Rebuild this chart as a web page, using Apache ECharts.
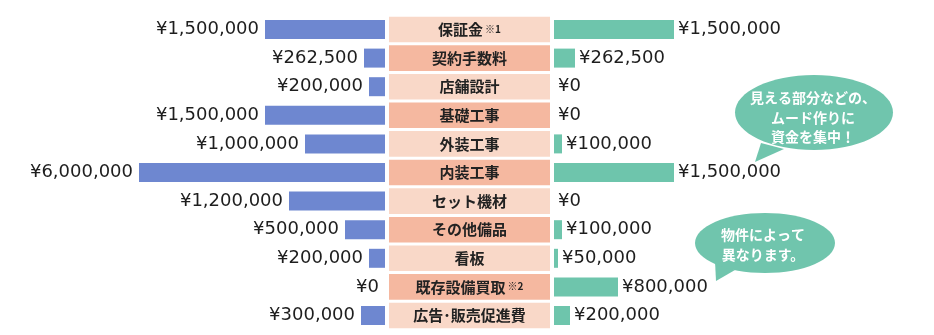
<!DOCTYPE html>
<html>
<head>
<meta charset="utf-8">
<script src="https://cdn.jsdelivr.net/npm/echarts@6/dist/echarts.min.js"></script>
<style>
  html, body { margin: 0; padding: 0; background: #ffffff; }
  #chart { width: 934px; height: 335px; }
</style>
</head>
<body>
<div id="chart"></div>
<script>
// Cost items (top to bottom)
const categories = ['保証金', '契約手数料', '店舗設計', '基礎工事', '外装工事', '内装工事', 'セット機材', 'その他備品', '看板', '既存設備買取', '広告･販売促進費'];
// Footnote marks attached to some items
const noteMarks = ['※1', '', '', '', '', '', '', '', '', '※2', ''];
// Left-hand amounts (yen)
const leftValues = [1500000, 262500, 200000, 1500000, 1000000, 6000000, 1200000, 500000, 200000, 0, 300000];
// Right-hand amounts (yen)
const rightValues = [1500000, 262500, 0, 0, 100000, 1500000, 0, 100000, 50000, 800000, 200000];

const FONT = '"Noto Sans CJK JP", "Noto Sans", sans-serif';
const NUM_FONT = '"DejaVu Sans", "Noto Sans", sans-serif';
const BLUE = '#6e87d0';
const GREEN = '#6ec5ac';
const BOX_LIGHT = '#f9d8c8';
const BOX_DARK = '#f5b8a0';
const BUBBLE = '#70c5ad';

const yen = v => '¥' + Number(v).toLocaleString('en-US');

const gridTop = 15.2;
const gridHeight = 314.6;

function hiddenValueAxis(extra) {
  return Object.assign({
    type: 'value',
    min: 0,
    axisLine: { show: false },
    axisTick: { show: false },
    axisLabel: { show: false },
    splitLine: { show: false }
  }, extra);
}
function hiddenCategoryAxis(gridIndex) {
  return {
    type: 'category',
    gridIndex: gridIndex,
    data: categories,
    inverse: true,
    axisLine: { show: false },
    axisTick: { show: false },
    axisLabel: { show: false },
    splitLine: { show: false }
  };
}

const valueLabel = (position, distance) => ({
  show: true,
  position: position,
  distance: distance,
  formatter: p => yen(p.value),
  fontFamily: NUM_FONT,
  fontSize: 18,
  color: '#1e1e1e'
});

const chart = echarts.init(document.getElementById('chart'), null, { renderer: 'canvas' });

chart.setOption({
  animation: false,
  backgroundColor: '#ffffff',
  textStyle: { fontFamily: FONT },
  grid: [
    { left: 139, width: 246, top: gridTop, height: gridHeight },
    { left: 389, width: 161, top: gridTop, height: gridHeight },
    { left: 554, width: 240, top: gridTop, height: gridHeight }
  ],
  xAxis: [
    hiddenValueAxis({
      gridIndex: 0,
      inverse: true,
      max: 6000000,
      // compress the long stretch so the largest amount fits
      breaks: [{ start: 2000000, end: 5000000, gap: 75000 }],
      breakArea: { show: false, itemStyle: { opacity: 0 } }
    }),
    hiddenValueAxis({ gridIndex: 1, max: 1 }),
    hiddenValueAxis({ gridIndex: 2, max: 3000000 })
  ],
  yAxis: [hiddenCategoryAxis(0), hiddenCategoryAxis(1), hiddenCategoryAxis(2)],
  series: [
    {
      name: 'left',
      type: 'bar',
      xAxisIndex: 0,
      yAxisIndex: 0,
      data: leftValues,
      barWidth: 19,
      itemStyle: { color: BLUE },
      label: valueLabel('left', 6)
    },
    {
      name: 'items',
      type: 'bar',
      xAxisIndex: 1,
      yAxisIndex: 1,
      barWidth: 25.6,
      silent: true,
      data: categories.map((c, i) => ({
        value: 1,
        itemStyle: { color: i % 2 === 0 ? BOX_LIGHT : BOX_DARK }
      })),
      label: {
        show: true,
        position: 'inside',
        formatter: p => {
          const note = noteMarks[p.dataIndex];
          return '{name|' + categories[p.dataIndex] + '}' + (note ? '{note|' + note + '}' : '');
        },
        rich: {
          name: { fontFamily: FONT, fontSize: 15, fontWeight: 'bold', color: '#222222' },
          note: { fontFamily: FONT, fontSize: 10, fontWeight: 'bold', color: '#222222', padding: [0, 0, 1, 2] }
        }
      }
    },
    {
      name: 'right',
      type: 'bar',
      xAxisIndex: 2,
      yAxisIndex: 2,
      data: rightValues,
      barWidth: 19,
      itemStyle: { color: GREEN },
      label: valueLabel('right', 4)
    }
  ],
  graphic: [
    {
      type: 'group',
      children: [
        { type: 'polygon', shape: { points: [[761, 143], [784, 149], [755, 162]] }, style: { fill: BUBBLE } },
        { type: 'ellipse', shape: { cx: 814, cy: 112.5, rx: 79, ry: 37.5 }, style: { fill: BUBBLE } },
        {
          type: 'text',
          x: 813, y: 117.5,
          style: {
            text: '見える部分などの、\nムード作りに\n資金を集中！',
            fill: '#ffffff',
            font: 'bold 14px ' + FONT,
            lineHeight: 19.5,
            align: 'center',
            verticalAlign: 'middle'
          }
        }
      ]
    },
    {
      type: 'group',
      children: [
        { type: 'polygon', shape: { points: [[715, 261], [735, 270], [716, 281]] }, style: { fill: BUBBLE } },
        { type: 'ellipse', shape: { cx: 765, cy: 243, rx: 70, ry: 30 }, style: { fill: BUBBLE } },
        {
          type: 'text',
          x: 763, y: 245,
          style: {
            text: '物件によって\n異なります。',
            fill: '#ffffff',
            font: 'bold 14px ' + FONT,
            lineHeight: 20,
            align: 'center',
            verticalAlign: 'middle'
          }
        }
      ]
    }
  ]
});
</script>
</body>
</html>
